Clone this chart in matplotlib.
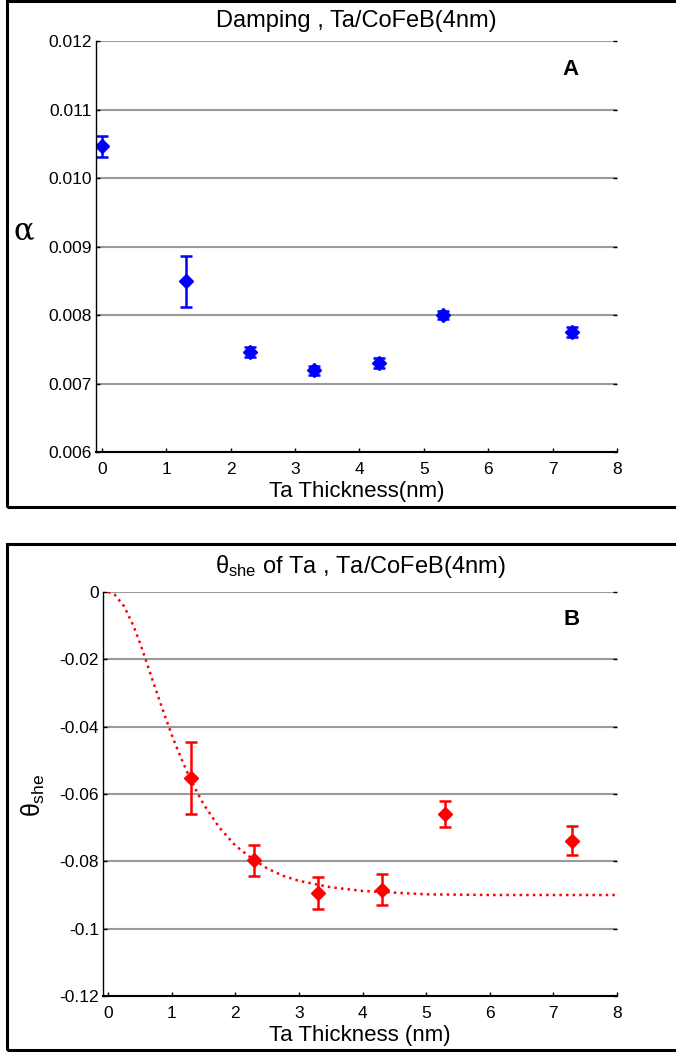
import numpy as np
import matplotlib
matplotlib.use("Agg")
import matplotlib.pyplot as plt
from matplotlib.patches import Rectangle

plt.rcParams['font.family'] = ['Liberation Sans', 'DejaVu Sans']
plt.rcParams['mathtext.fontset'] = 'custom'
plt.rcParams['mathtext.rm'] = 'Liberation Sans'
plt.rcParams['mathtext.it'] = 'Liberation Sans'

# --- Data ---------------------------------------------------------------------

# panel A: damping vs Ta thickness
thick_a = [0.0, 1.3, 2.3, 3.3, 4.3, 5.3, 7.3]
alpha = [0.01046, 0.00849, 0.00746, 0.00719, 0.00730, 0.00800, 0.00775]
alpha_err = [0.00015, 0.00037, 0.00007, 0.00007, 0.00007, 0.00006, 0.00007]

# panel B: spin Hall angle vs Ta thickness
thick_b = [1.3, 2.3, 3.3, 4.3, 5.3, 7.3]
theta = [-0.0552, -0.0797, -0.0895, -0.0884, -0.0660, -0.0739]
theta_err = [0.0107, 0.0047, 0.0048, 0.0045, 0.0038, 0.0043]

# fit curve
fit_x = [0.0, 0.1, 0.25, 0.4, 0.5, 0.6, 0.75, 0.9, 1.0, 1.1, 1.25, 1.4, 1.5,
         1.75, 2.0, 2.25, 2.5, 2.75, 3.0, 3.5, 4.0, 4.5, 5.0, 6.0, 7.0, 8.0]
fit_y = [0.0, -0.0007, -0.0042, -0.0101, -0.0151, -0.0206, -0.0290, -0.0372,
         -0.0424, -0.0472, -0.0538, -0.0595, -0.0630, -0.0700, -0.0753,
         -0.0790, -0.0821, -0.0843, -0.0858, -0.0877, -0.0888, -0.0893,
         -0.0898, -0.0900, -0.0900, -0.0900]

W, H = 676, 1053
fig = plt.figure(figsize=(W / 100, H / 100), dpi=100)

# panel frames
for (x0, y0, x1, y1) in [(7, 1, 690, 507), (7, 544, 690, 1050)]:
    fig.patches.append(Rectangle((x0 / W, 1 - y1 / H), (x1 - x0) / W, (y1 - y0) / H,
                                 transform=fig.transFigure, fill=False,
                                 edgecolor='black', linewidth=2.2))


def style_axes(ax):
    for s in ['top', 'right']:
        ax.spines[s].set_visible(False)
    ax.spines['left'].set_linewidth(1.0)
    ax.spines['bottom'].set_linewidth(1.5)
    ax.yaxis.grid(True, color='#9a9a9a', linewidth=1.5)
    ax.set_axisbelow(True)
    ax.tick_params(axis='both', direction='in', length=3, labelsize=12.5,
                   right=True, width=1)
    ax.tick_params(axis='y', pad=3)
    ax.tick_params(axis='x', pad=7)


# --- Panel A ------------------------------------------------------------------

axA = fig.add_axes([96 / W, 1 - 452 / H, (617 - 96) / W, (452 - 41) / H])
style_axes(axA)
axA.errorbar(thick_a, alpha, yerr=alpha_err, fmt='D', color='#0000ff',
             markersize=7, elinewidth=1.8, capsize=4, capthick=1.8)
axA.set_xlim(-0.09, 8)
axA.set_ylim(0.006, 0.012)
axA.set_xticks(range(0, 9))
axA.set_yticks([0.006, 0.007, 0.008, 0.009, 0.010, 0.011, 0.012])
axA.set_yticklabels(['0.006', '0.007', '0.008', '0.009', '0.010', '0.011', '0.012'])
axA.set_xlabel('Ta Thickness(nm)', fontsize=16, labelpad=3)
axA.set_title('Damping , Ta/CoFeB(4nm)', fontsize=17, pad=10)
fig.text(24 / W, 1 - 231 / H, 'α', fontsize=22, ha='center', va='center',
         family='DejaVu Serif')
axA.text(7.28, 0.01158, 'A', fontsize=16, fontweight='bold', ha='center', va='center')

# --- Panel B ------------------------------------------------------------------

axB = fig.add_axes([103 / W, 1 - 996 / H, (617 - 103) / W, (996 - 592) / H])
style_axes(axB)
axB.plot(fit_x, fit_y, ':', color='#ff0000', linewidth=1.8)
axB.errorbar(thick_b, theta, yerr=theta_err, fmt='D', color='#ff0000',
             markersize=7, elinewidth=1.8, capsize=4, capthick=1.8)
axB.set_xlim(-0.08, 8)
axB.set_ylim(-0.12, 0)
axB.set_xticks(range(0, 9))
axB.set_yticks([-0.12, -0.1, -0.08, -0.06, -0.04, -0.02, 0])
axB.set_yticklabels(['-0.12', '-0.1', '-0.08', '-0.06', '-0.04', '-0.02', '0'])
axB.set_xlabel('Ta Thickness (nm)', fontsize=16, labelpad=3)
axB.set_title(r'$\theta_{\mathrm{she}}$ of Ta , Ta/CoFeB(4nm)', fontsize=17, pad=14)
fig.text(33 / W, 1 - 795 / H, r'$\theta_{\mathrm{she}}$', fontsize=18,
         ha='center', va='center', rotation=90)
axB.text(7.28, -0.0083, 'B', fontsize=16, fontweight='bold', ha='center', va='center')

fig.savefig('out.png', dpi=100)
